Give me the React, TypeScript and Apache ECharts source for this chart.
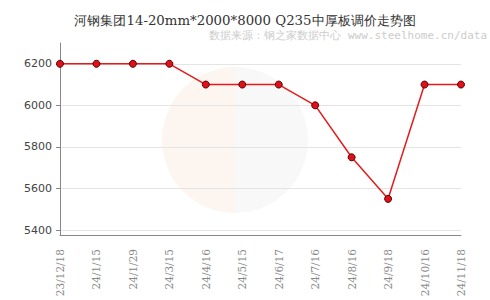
import React, { useEffect, useRef } from "react";
import * as echarts from "echarts";

const categories = ["23/12/18", "24/1/15", "24/1/29", "24/3/15", "24/4/16", "24/5/15", "24/6/17", "24/7/16", "24/8/16", "24/9/18", "24/10/16", "24/11/18"];
const prices = [6200, 6200, 6200, 6200, 6100, 6100, 6100, 6000, 5750, 5550, 6100, 6100];
const yTicks = [5400, 5600, 5800, 6000, 6200];
const titleText = "河钢集团14-20mm*2000*8000 Q235中厚板调价走势图";
const sourceText = "数据来源：钢之家数据中心 www.steelhome.cn/data";

export default function App() {
  const ref = useRef<HTMLDivElement>(null);
  useEffect(() => {
    if (!ref.current) return;
    const chart = echarts.init(ref.current, null, { renderer: "svg" });
    chart.setOption({
      animation: false,
      backgroundColor: "#fff",
      graphic: [
        {
          type: "sector",
          z: -10,
          shape: { cx: 235, cy: 140, r: 73, startAngle: Math.PI / 2, endAngle: (3 * Math.PI) / 2 },
          style: { fill: "rgba(245,190,160,0.16)" },
        },
        {
          type: "sector",
          z: -10,
          shape: { cx: 235, cy: 140, r: 73, startAngle: -Math.PI / 2, endAngle: Math.PI / 2 },
          style: { fill: "rgba(200,200,200,0.13)" },
        },
        {
          type: "text",
          right: 3,
          top: 30,
          style: { text: sourceText, fill: "#cccccc", font: "11px 'DejaVu Sans Mono', monospace" },
        },
      ],
      title: {
        text: titleText,
        left: "center",
        top: 9,
        textStyle: { fontFamily: "'DejaVu Serif', serif", fontWeight: "normal", fontSize: 13.3, color: "#333" },
      },
      grid: { left: 60, right: 29, top: 43, bottom: 65, containLabel: false },
      xAxis: {
        type: "category",
        data: categories,
        boundaryGap: false,
        axisLine: { lineStyle: { color: "#888" } },
        axisTick: { show: false },
        axisLabel: { rotate: 90, color: "#888", fontSize: 10.5, fontFamily: "'DejaVu Serif', serif", margin: 14, interval: 0 },
      },
      yAxis: {
        type: "value",
        min: 5376,
        max: 6300,
        axisLine: { show: true, lineStyle: { color: "#888" } },
        axisTick: { show: true, customValues: yTicks, length: 4, lineStyle: { color: "#888" } },
        axisLabel: {
          customValues: yTicks,
          color: "#444",
          fontSize: 11,
          fontFamily: "'DejaVu Sans', sans-serif",
          margin: 8,
          formatter: (v: number) => String(v),
        },
        splitLine: { show: true, lineStyle: { color: "#e4e4e4" } },
      },
      series: [
        {
          type: "line",
          data: prices,
          symbol: "circle",
          symbolSize: 7,
          lineStyle: { color: "#e41a1c", width: 1.5 },
          itemStyle: { color: "#e0101a", borderColor: "#5a0000", borderWidth: 1 },
        },
      ],
    });
    return () => chart.dispose();
  }, []);
  return <div ref={ref} style={{ width: 490, height: 300, position: "absolute", left: 0, top: 0 }} />;
}
